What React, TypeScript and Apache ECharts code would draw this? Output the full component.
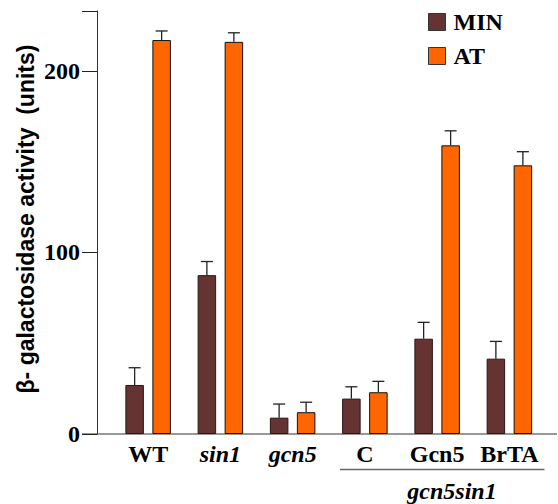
import React, { useEffect, useRef } from "react";
import * as echarts from "echarts";

const categories = ["WT", "sin1", "gcn5", "C", "Gcn5", "BrTA"];
const italicCategories = ["sin1", "gcn5"];
const minValues = [27, 87.5, 9, 19.5, 52.5, 41.5];
const minErrors = [9.5, 7.5, 7.5, 6.5, 9, 9.5];
const atValues = [217, 216, 12, 23, 159, 148];
const atErrors = [5, 5, 5.5, 6, 8, 7.5];
const yTicks = [0, 100, 200];
const groupLabel = "gcn5sin1";
const yTitle = "β- galactosidase activity  (units)";

const MIN_COLOR = "#663333";
const AT_COLOR = "#ff6600";
const BAR_W = 18.5;
const BAR_GAP = 8.5;
const SERIF = "'Liberation Serif', 'Times New Roman', serif";
const SANS = "'Liberation Sans', Arial, sans-serif";

function errorSeries(name: string, values: number[], errors: number[], dir: number) {
  return {
    name,
    type: "custom",
    z: 5,
    data: values.map((v, i) => [i, v, errors[i]]),
    encode: { x: 0, y: 1 },
    renderItem: (params: any, api: any) => {
      const base = api.coord([api.value(0), api.value(1)]);
      const top = api.coord([api.value(0), api.value(1) + api.value(2)]);
      const x = base[0] + dir * (BAR_W + BAR_GAP) / 2;
      const style = { stroke: "#222", lineWidth: 1.3 };
      return {
        type: "group",
        children: [
          { type: "line", shape: { x1: x, y1: base[1], x2: x, y2: top[1] }, style },
          { type: "line", shape: { x1: x - 6, y1: top[1], x2: x + 6, y2: top[1] }, style },
        ],
      };
    },
  };
}

export default function App() {
  const ref = useRef<HTMLDivElement>(null);
  useEffect(() => {
    if (!ref.current) return;
    const chart = echarts.init(ref.current, null, { renderer: "svg" });
    const option: any = {
      animation: false,
      backgroundColor: "#fff",
      grid: { left: 112, right: 12.5, top: 11, bottom: 70, containLabel: false },
      legend: {
        data: ["MIN", "AT"],
        orient: "vertical",
        left: 423,
        top: 5,
        icon: "rect",
        itemWidth: 17,
        itemHeight: 17,
        itemGap: 10,
        itemStyle: { borderColor: "#333", borderWidth: 1 },
        textStyle: {
          fontFamily: SERIF,
          fontWeight: "bold",
          fontSize: 24,
          color: "#000",
          padding: [0, 0, 0, 3],
        },
      },
      xAxis: {
        type: "category",
        data: categories,
        axisLine: { show: false },
        axisTick: { show: false },
        axisLabel: {
          margin: 8,
          formatter: (v: string) => (italicCategories.includes(v) ? `{i|${v}}` : `{b|${v}}`),
          rich: {
            b: { fontFamily: SERIF, fontWeight: "bold", fontSize: 24, color: "#000" },
            i: { fontFamily: SERIF, fontWeight: "bold", fontStyle: "italic", fontSize: 24, color: "#000" },
          },
        },
      },
      yAxis: {
        type: "value",
        min: 0,
        max: 233,
        interval: 100,
        offset: 15,
        splitLine: { show: false },
        axisLine: { show: true, lineStyle: { color: "#333", width: 1 } },
        axisTick: { show: true, length: 15, lineStyle: { color: "#222", width: 1 } },
        axisLabel: {
          margin: 17,
          fontFamily: SERIF,
          fontWeight: "bold",
          fontSize: 24,
          color: "#000",
          formatter: (v: number) => (yTicks.includes(v) ? String(v) : ""),
        },
      },
      series: [
        {
          name: "MIN",
          type: "bar",
          data: minValues,
          barWidth: BAR_W,
          barGap: `${(BAR_GAP / BAR_W) * 100}%`,
          itemStyle: { color: MIN_COLOR, borderColor: "#2a1515", borderWidth: 1 },
        },
        {
          name: "AT",
          type: "bar",
          data: atValues,
          barWidth: BAR_W,
          itemStyle: { color: AT_COLOR, borderColor: "#111", borderWidth: 1 },
        },
        errorSeries("MIN err", minValues, minErrors, -1),
        errorSeries("AT err", atValues, atErrors, 1),
      ],
    };
    chart.setOption(option);
    const y0 = chart.convertToPixel({ yAxisIndex: 0 }, 0) as number;
    chart.setOption({
      graphic: [
        { type: "line", shape: { x1: 82, y1: y0, x2: 557, y2: y0 }, style: { stroke: "#333", lineWidth: 1.2 } },
        { type: "line", shape: { x1: 340, y1: 469.5, x2: 544.5, y2: 469.5 }, style: { stroke: "#666", lineWidth: 1.4 } },
        {
          type: "text",
          x: 452,
          y: 491,
          style: {
            text: groupLabel,
            fontFamily: SERIF,
            fontWeight: "bold",
            fontStyle: "italic",
            fontSize: 24,
            fill: "#000",
            align: "center",
            verticalAlign: "middle",
          },
        },
        {
          type: "text",
          x: 26,
          y: 219,
          rotation: Math.PI / 2,
          style: {
            text: yTitle,
            fontFamily: SANS,
            fontWeight: "bold",
            fontSize: 23,
            fill: "#000",
            align: "center",
            verticalAlign: "middle",
          },
        },
      ],
    });
    return () => chart.dispose();
  }, []);
  return (
    <div
      ref={ref}
      style={{ position: "fixed", left: 0, top: 0, width: 558, height: 504 }}
    />
  );
}
